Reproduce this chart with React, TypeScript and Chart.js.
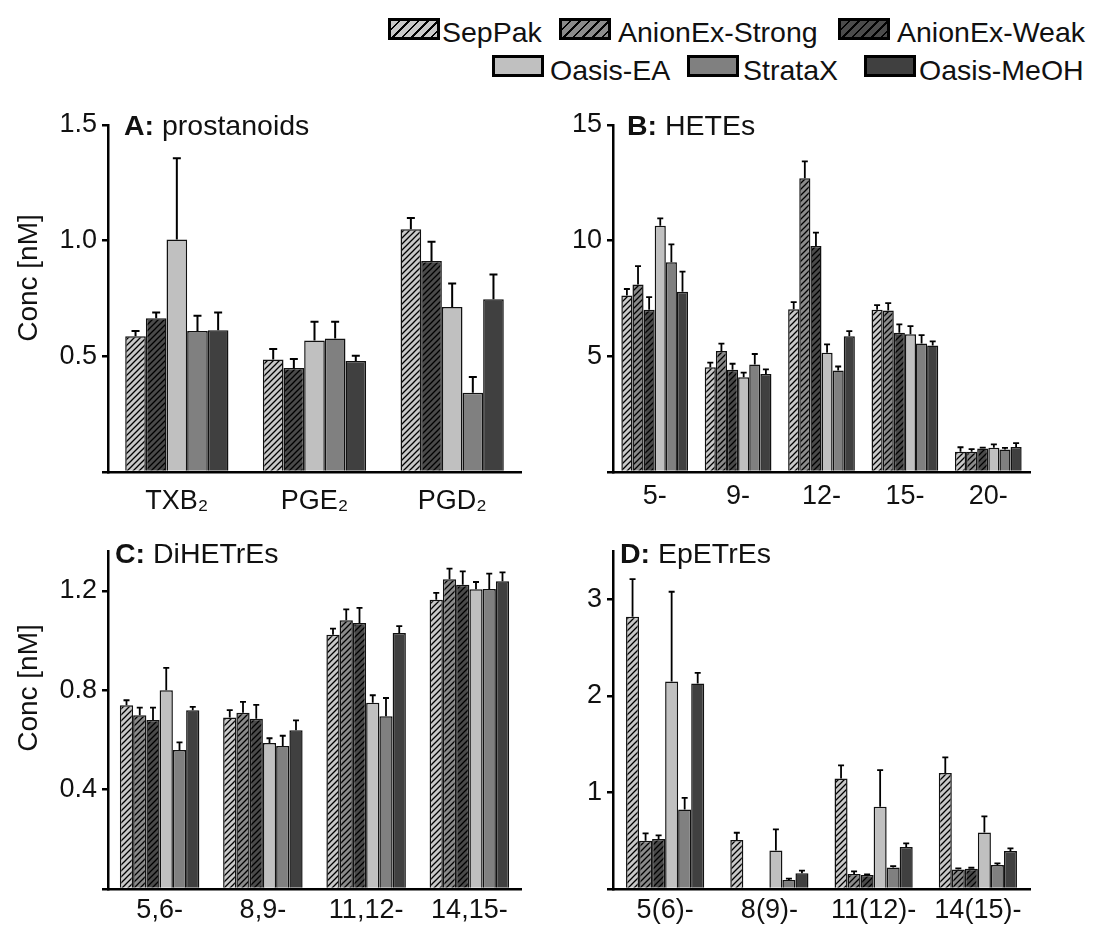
import React, { useEffect, useRef } from 'react';
import { Chart, registerables } from 'chart.js';

Chart.register(...registerables);

const FONT = '"Liberation Sans", Arial, Helvetica, sans-serif';

// ---------- series ----------
const SERIES = ['SepPak', 'AnionEx-Strong', 'AnionEx-Weak', 'Oasis-EA', 'StrataX', 'Oasis-MeOH'];
const SERIES_FILL = ['#c8c8c8', '#8a8a8a', '#4a4a4a', '#c0c0c0', '#808080', '#404040'];
const SERIES_HATCHED = [true, true, true, false, false, false];

// ---------- panel A: prostanoids ----------
const A_CATEGORIES = ['TXB₂', 'PGE₂', 'PGD₂'];
const A_VALUES: (number | null)[][] = [
  [0.587, 0.486, 1.049],
  [null, null, null],
  [0.665, 0.45, 0.912],
  [1.005, 0.568, 0.713],
  [0.61, 0.577, 0.343],
  [0.613, 0.48, 0.747],
];
const A_ERRORS: (number | null)[][] = [
  [0.023, 0.046, 0.049],
  [null, null, null],
  [0.024, 0.038, 0.083],
  [0.351, 0.082, 0.102],
  [0.065, 0.073, 0.068],
  [0.076, 0.023, 0.107],
];
const A_TICKS = [0, 0.5, 1.0, 1.5];
const A_TICK_LABELS = ['', '0.5', '1.0', '1.5'];

// ---------- panel B: HETEs ----------
const B_CATEGORIES = ['5-', '9-', '12-', '15-', '20-'];
const B_VALUES: (number | null)[][] = [
  [7.63, 4.53, 7.03, 7.01, 0.87],
  [8.11, 5.23, 12.7, 6.98, 0.87],
  [7.01, 4.42, 9.77, 6.02, 1.02],
  [10.64, 4.1, 5.15, 5.96, 1.05],
  [9.07, 4.65, 4.39, 5.55, 0.97],
  [7.79, 4.24, 5.87, 5.47, 1.08],
];
const B_ERRORS: (number | null)[][] = [
  [0.28, 0.2, 0.31, 0.2, 0.2],
  [0.79, 0.32, 0.73, 0.32, 0.12],
  [0.55, 0.26, 0.58, 0.36, 0.03],
  [0.32, 0.2, 0.37, 0.35, 0.14],
  [0.77, 0.45, 0.17, 0.37, 0.07],
  [0.87, 0.2, 0.22, 0.18, 0.17],
];
const B_TICKS = [0, 5, 10, 15];
const B_TICK_LABELS = ['', '5', '10', '15'];

// ---------- panel C: DiHETrEs ----------
const C_CATEGORIES = ['5,6-', '8,9-', '11,12-', '14,15-'];
const C_VALUES: (number | null)[][] = [
  [0.74, 0.69, 1.024, 1.165],
  [0.7, 0.71, 1.082, 1.247],
  [0.68, 0.685, 1.071, 1.225],
  [0.8, 0.588, 0.75, 1.207],
  [0.56, 0.576, 0.695, 1.208],
  [0.72, 0.639, 1.031, 1.239],
];
const C_ERRORS: (number | null)[][] = [
  [0.02, 0.03, 0.024, 0.027],
  [0.03, 0.043, 0.044, 0.043],
  [0.05, 0.056, 0.061, 0.054],
  [0.09, 0.019, 0.03, 0.029],
  [0.03, 0.041, 0.074, 0.062],
  [0.013, 0.04, 0.027, 0.036],
];
const C_TICKS = [0, 0.4, 0.8, 1.2];
const C_TICK_LABELS = ['', '0.4', '0.8', '1.2'];

// ---------- panel D: EpETrEs ----------
const D_CATEGORIES = ['5(6)-', '8(9)-', '11(12)-', '14(15)-'];
const D_VALUES: (number | null)[][] = [
  [2.82, 0.507, 1.145, 1.203],
  [0.5, null, 0.155, 0.203],
  [0.517, null, 0.145, 0.21],
  [2.15, 0.4, 0.852, 0.586],
  [0.824, 0.093, 0.224, 0.248],
  [2.13, 0.162, 0.434, 0.393],
];
const D_ERRORS: (number | null)[][] = [
  [0.39, 0.076, 0.135, 0.16],
  [0.076, null, 0.028, 0.01],
  [0.038, null, 0.007, 0.01],
  [0.93, 0.217, 0.38, 0.166],
  [0.12, 0.014, 0.014, 0.018],
  [0.11, 0.028, 0.038, 0.028],
];
const D_TICKS = [0, 1, 2, 3];
const D_TICK_LABELS = ['', '1', '2', '3'];

function makeHatch(ctx: CanvasRenderingContext2D, bg: string): CanvasPattern | string {
  const size = 6;
  const c = document.createElement('canvas');
  c.width = size;
  c.height = size;
  const g = c.getContext('2d');
  if (!g) return bg;
  g.fillStyle = bg;
  g.fillRect(0, 0, size, size);
  g.strokeStyle = '#000';
  g.lineWidth = 1.3;
  g.beginPath();
  g.moveTo(0, size);
  g.lineTo(size, 0);
  g.moveTo(-size / 2, size / 2);
  g.lineTo(size / 2, -size / 2);
  g.moveTo(size / 2, size * 1.5);
  g.lineTo(size * 1.5, size / 2);
  g.stroke();
  return ctx.createPattern(c, 'repeat') || bg;
}

const errorBarPlugin = {
  id: 'errorBars',
  afterDatasetsDraw(chart: any, _args: any, opts: any) {
    const ctx = chart.ctx as CanvasRenderingContext2D;
    const yScale = chart.scales.y;
    ctx.save();
    ctx.strokeStyle = '#000';
    ctx.lineWidth = opts.lineWidth || 2;
    chart.data.datasets.forEach((ds: any, i: number) => {
      const meta = chart.getDatasetMeta(i);
      meta.data.forEach((bar: any, j: number) => {
        const v = ds.data[j];
        const e = ds.errors ? ds.errors[j] : null;
        if (v == null || e == null) return;
        const p = bar.getProps(['x', 'y'], true);
        const top = yScale.getPixelForValue(v + e);
        const half = opts.capHalf || 4;
        ctx.beginPath();
        ctx.moveTo(p.x, p.y);
        ctx.lineTo(p.x, top);
        ctx.moveTo(p.x - half, top);
        ctx.lineTo(p.x + half, top);
        ctx.stroke();
      });
    });
    ctx.restore();
  },
};

const panelTextPlugin = {
  id: 'panelText',
  afterDraw(chart: any, _args: any, o: any) {
    const ctx = chart.ctx as CanvasRenderingContext2D;
    ctx.save();
    ctx.fillStyle = '#111';
    ctx.textAlign = 'left';
    ctx.textBaseline = 'alphabetic';
    ctx.font = `bold 28.5px ${FONT}`;
    ctx.fillText(o.bold, o.x, o.baseline);
    const w = ctx.measureText(o.bold).width;
    ctx.font = `28.5px ${FONT}`;
    ctx.fillText(o.rest, o.x + w, o.baseline);
    if (o.yTitle) {
      ctx.translate(o.yTitleX, o.yTitleY);
      ctx.rotate(-Math.PI / 2);
      ctx.textAlign = 'center';
      ctx.textBaseline = 'middle';
      ctx.font = `28px ${FONT}`;
      ctx.fillText(o.yTitle, 0, 0);
    }
    ctx.restore();
  },
};

type PanelProps = {
  left: number; top: number; width: number; height: number;
  padTop: number; padRight: number; yWidth: number; xHeight: number;
  categories: string[]; values: (number | null)[][]; errors: (number | null)[][];
  ticks: number[]; tickLabels: string[]; yMax: number;
  titleBold: string; titleRest: string; titleX: number; titleBaseline: number;
  yTitle?: string; yTitleX?: number; yTitleY?: number;
  skipNull: boolean; catPct: number; xPad: number; capHalf: number; errWidth: number;
};

function Panel(p: PanelProps) {
  const ref = useRef<HTMLCanvasElement | null>(null);
  useEffect(() => {
    const canvas = ref.current;
    if (!canvas) return;
    const ctx = canvas.getContext('2d');
    if (!ctx) return;
    const datasets = SERIES.map((name, i) => ({
      label: name,
      data: p.values[i],
      errors: p.errors[i],
      backgroundColor: SERIES_HATCHED[i] ? makeHatch(ctx, SERIES_FILL[i]) : SERIES_FILL[i],
      borderColor: '#111',
      borderWidth: 1.5,
      barPercentage: 1.0,
      categoryPercentage: p.catPct,
      skipNull: p.skipNull,
    }));
    const chart = new Chart(ctx, {
      type: 'bar',
      data: { labels: p.categories, datasets: datasets as any },
      plugins: [errorBarPlugin, panelTextPlugin],
      options: {
        animation: false,
        responsive: false,
        devicePixelRatio: 1,
        layout: { padding: { top: p.padTop, right: p.padRight, left: 0, bottom: 0 } },
        plugins: {
          legend: { display: false },
          tooltip: { enabled: false },
          title: { display: false },
          errorBars: { capHalf: p.capHalf, lineWidth: p.errWidth },
          panelText: {
            bold: p.titleBold, rest: p.titleRest, x: p.titleX, baseline: p.titleBaseline,
            yTitle: p.yTitle, yTitleX: p.yTitleX, yTitleY: p.yTitleY,
          },
        } as any,
        scales: {
          x: {
            type: 'category',
            z: 1,
            grid: { display: false, drawTicks: false },
            border: { display: true, color: '#000', width: 2.5 },
            ticks: {
              color: '#111',
              font: { family: FONT, size: 27 },
              padding: p.xPad,
              maxRotation: 0,
              autoSkip: false,
            },
            afterFit: (s: any) => { s.height = p.xHeight; },
          },
          y: {
            type: 'linear',
            z: 1,
            min: 0,
            max: p.yMax,
            grid: {
              display: true,
              drawOnChartArea: false,
              drawTicks: true,
              tickLength: 6,
              color: '#000',
              lineWidth: 2.5,
            },
            border: { display: true, color: '#000', width: 2.5 },
            ticks: {
              color: '#111',
              font: { family: FONT, size: 27 },
              padding: 5,
              callback: (v: any) => {
                const k = p.ticks.findIndex((t) => Math.abs(t - Number(v)) < 1e-9);
                return k >= 0 ? p.tickLabels[k] : '';
              },
            },
            afterBuildTicks: (s: any) => { s.ticks = p.ticks.map((v) => ({ value: v })); },
            afterFit: (s: any) => { s.width = p.yWidth; },
          },
        } as any,
      },
    });
    return () => chart.destroy();
  }, []);
  return (
    <canvas
      ref={ref}
      width={p.width}
      height={p.height}
      style={{ position: 'absolute', left: p.left, top: p.top, width: p.width, height: p.height }}
    />
  );
}

function hatchCss(bg: string) {
  return `repeating-linear-gradient(135deg, ${bg} 0px, ${bg} 5px, #000 5px, #000 6.8px)`;
}

const LEGEND_POS = [
  { bx: 388, by: 18, tx: 442, ty: 18 },
  { bx: 559, by: 18, tx: 618, ty: 18 },
  { bx: 838, by: 18, tx: 897, ty: 18 },
  { bx: 492, by: 55, tx: 550, ty: 56 },
  { bx: 687, by: 55, tx: 743, ty: 56 },
  { bx: 864, by: 55, tx: 919, ty: 56 },
];

export default function App() {
  return (
    <div style={{ position: 'absolute', left: 0, top: 0, width: 1096, height: 932, background: '#fff', overflow: 'hidden', fontFamily: FONT }}>
      {SERIES.map((name, i) => {
        const pos = LEGEND_POS[i];
        return (
          <React.Fragment key={name}>
            <div
              style={{
                position: 'absolute', left: pos.bx, top: pos.by, width: 52, height: 22,
                boxSizing: 'border-box', border: '3px solid #000',
                background: SERIES_HATCHED[i] ? hatchCss(SERIES_FILL[i]) : SERIES_FILL[i],
              }}
            />
            <span
              style={{
                position: 'absolute', left: pos.tx, top: pos.ty, fontSize: 28.5, lineHeight: '28px',
                color: '#111', whiteSpace: 'nowrap',
              }}
            >
              {name}
            </span>
          </React.Fragment>
        );
      })}
      <Panel
        left={0} top={100} width={548} height={420}
        padTop={25} padRight={27} yWidth={108} xHeight={48}
        categories={A_CATEGORIES} values={A_VALUES} errors={A_ERRORS}
        ticks={A_TICKS} tickLabels={A_TICK_LABELS} yMax={1.5}
        titleBold="A:" titleRest=" prostanoids" titleX={124} titleBaseline={35}
        yTitle="Conc [nM]" yTitleX={29} yTitleY={178}
        skipNull={true} catPct={0.75} xPad={13} capHalf={4} errWidth={2}
      />
      <Panel
        left={548} top={100} width={548} height={420}
        padTop={25} padRight={66} yWidth={65} xHeight={48}
        categories={B_CATEGORIES} values={B_VALUES} errors={B_ERRORS}
        ticks={B_TICKS} tickLabels={B_TICK_LABELS} yMax={15}
        titleBold="B:" titleRest=" HETEs" titleX={79} titleBaseline={35}
        skipNull={false} catPct={0.8} xPad={8} capHalf={3} errWidth={1.8}
      />
      <Panel
        left={0} top={530} width={548} height={402}
        padTop={20} padRight={27} yWidth={108} xHeight={43}
        categories={C_CATEGORIES} values={C_VALUES} errors={C_ERRORS}
        ticks={C_TICKS} tickLabels={C_TICK_LABELS} yMax={1.36}
        titleBold="C:" titleRest=" DiHETrEs" titleX={115} titleBaseline={33}
        yTitle="Conc [nM]" yTitleX={29} yTitleY={158}
        skipNull={false} catPct={0.77} xPad={5} capHalf={3} errWidth={1.8}
      />
      <Panel
        left={548} top={530} width={548} height={402}
        padTop={20} padRight={66} yWidth={65} xHeight={43}
        categories={D_CATEGORIES} values={D_VALUES} errors={D_ERRORS}
        ticks={D_TICKS} tickLabels={D_TICK_LABELS} yMax={3.5}
        titleBold="D:" titleRest=" EpETrEs" titleX={72} titleBaseline={33}
        skipNull={false} catPct={0.75} xPad={5} capHalf={3} errWidth={1.8}
      />
    </div>
  );
}
